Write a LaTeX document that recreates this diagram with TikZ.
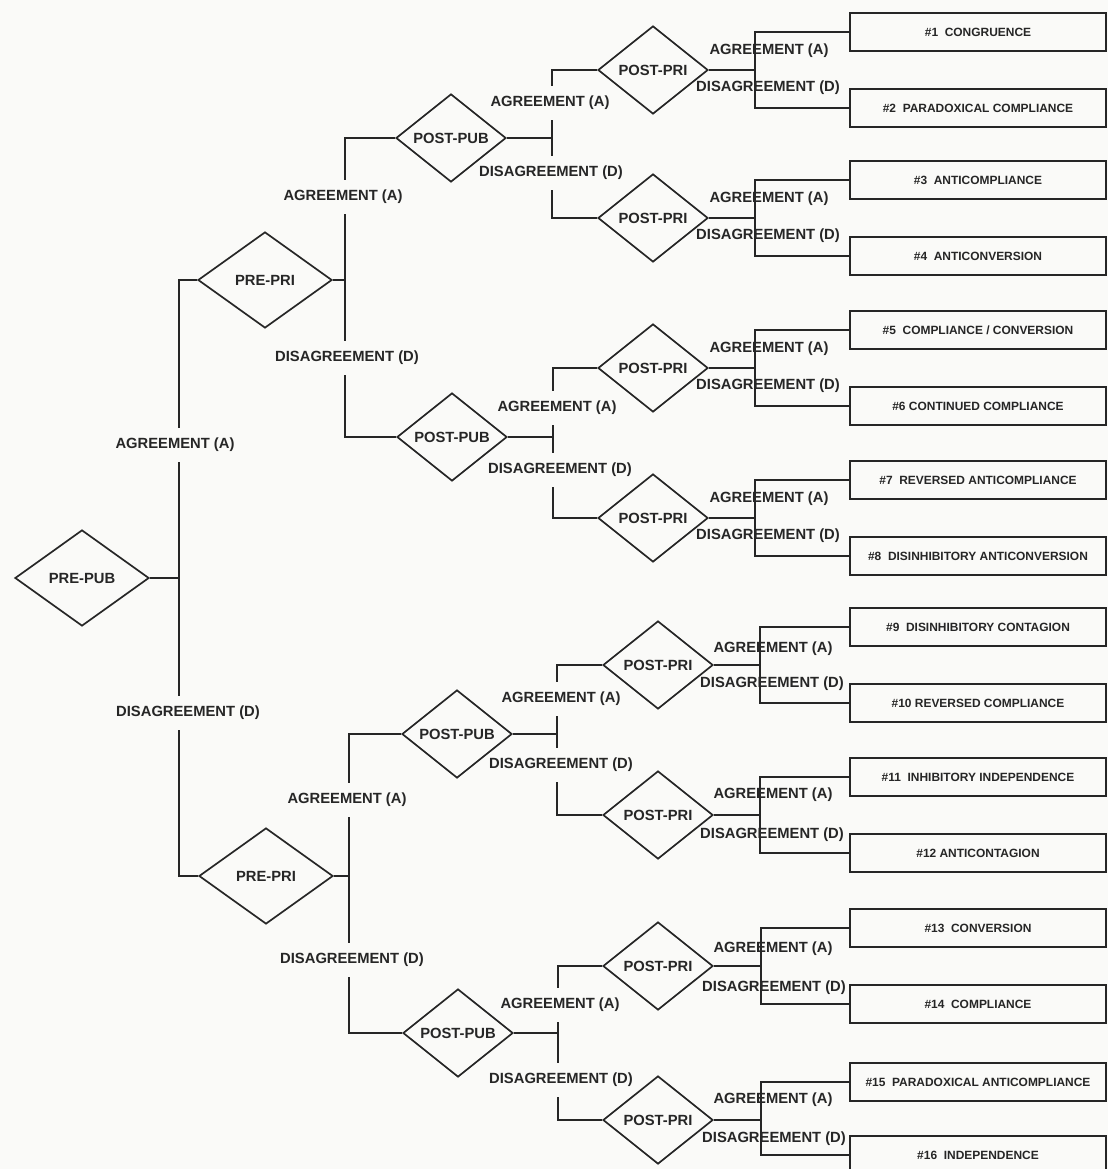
\documentclass[tikz,border=0pt]{standalone}
\usepackage{fontspec}
\setmainfont{Liberation Sans}
\usetikzlibrary{shapes.geometric, backgrounds}
\definecolor{ink}{RGB}{38,38,38}
\definecolor{paper}{RGB}{250,250,248}

\begin{document}
\begin{tikzpicture}[
        x=0.025cm, y=-0.025cm,
        decision/.style={diamond, draw=ink, line width=1.2pt, inner sep=0pt, aspect=1.25, text=ink, font=\fontsize{10.5}{13}\selectfont\bfseries},
        predec/.style={decision, minimum width=3.35cm, minimum height=2.4cm},
        postdec/.style={decision, minimum width=2.75cm, minimum height=2.2cm},
        outcome/.style={rectangle, draw=ink, line width=1.2pt, minimum width=6.4cm, minimum height=0.95cm, inner sep=1pt, text=ink, font=\fontsize{8.5}{11}\selectfont\bfseries},
        answer/.style={text=ink, inner sep=1pt, font=\fontsize{10.5}{13}\selectfont\bfseries},
        gapped/.style={answer, fill=paper, inner xsep=2pt, inner ysep=7pt},
        link/.style={draw=ink, line width=1.2pt}
    ]
    \useasboundingbox (0,0) rectangle (1108,1169);

    % answers on the trunks
    \node (agr0) [gapped] at (175,445) {AGREEMENT (A)};
    \node (dis0) [gapped] at (188,713) {DISAGREEMENT (D)};
    \node (agrA) [gapped] at (343,197) {AGREEMENT (A)};
    \node (disA) [gapped] at (347,358) {DISAGREEMENT (D)};
    \node (agrD) [gapped] at (347,800) {AGREEMENT (A)};
    \node (disD) [gapped] at (352,960) {DISAGREEMENT (D)};
    \node (agrAA) [gapped] at (550,103) {AGREEMENT (A)};
    \node (disAA) [gapped] at (551,173) {DISAGREEMENT (D)};
    \node (agrAD) [gapped] at (557,408) {AGREEMENT (A)};
    \node (disAD) [gapped] at (560,470) {DISAGREEMENT (D)};
    \node (agrDA) [gapped] at (561,699) {AGREEMENT (A)};
    \node (disDA) [gapped] at (561,765) {DISAGREEMENT (D)};
    \node (agrDD) [gapped] at (560,1005) {AGREEMENT (A)};
    \node (disDD) [gapped] at (561,1080) {DISAGREEMENT (D)};

    \node (agrAAA) [answer] at (769,51) {AGREEMENT (A)};
    \node (disAAA) [answer] at (768,88) {DISAGREEMENT (D)};
    \node (agrAAD) [answer] at (769,199) {AGREEMENT (A)};
    \node (disAAD) [answer] at (768,236) {DISAGREEMENT (D)};
    \node (agrADA) [answer] at (769,349) {AGREEMENT (A)};
    \node (disADA) [answer] at (768,386) {DISAGREEMENT (D)};
    \node (agrADD) [answer] at (769,499) {AGREEMENT (A)};
    \node (disADD) [answer] at (768,536) {DISAGREEMENT (D)};
    \node (agrDAA) [answer] at (773,649) {AGREEMENT (A)};
    \node (disDAA) [answer] at (772,684) {DISAGREEMENT (D)};
    \node (agrDAD) [answer] at (773,795) {AGREEMENT (A)};
    \node (disDAD) [answer] at (772,835) {DISAGREEMENT (D)};
    \node (agrDDA) [answer] at (773,949) {AGREEMENT (A)};
    \node (disDDA) [answer] at (774,988) {DISAGREEMENT (D)};
    \node (agrDDD) [answer] at (773,1100) {AGREEMENT (A)};
    \node (disDDD) [answer] at (774,1139) {DISAGREEMENT (D)};

    % decisions
    \node (prepub) [predec] at (82,578) {PRE-PUB};
    \node (prepriA) [predec] at (265,280) {PRE-PRI};
    \node (prepriD) [predec] at (266,876) {PRE-PRI};
    \node (pubAA) [postdec] at (451,138) {POST-PUB};
    \node (pubAD) [postdec] at (452,437) {POST-PUB};
    \node (pubDA) [postdec] at (457,734) {POST-PUB};
    \node (pubDD) [postdec] at (458,1033) {POST-PUB};
    \node (priAAA) [postdec] at (653,70) {POST-PRI};
    \node (priAAD) [postdec] at (653,218) {POST-PRI};
    \node (priADA) [postdec] at (653,368) {POST-PRI};
    \node (priADD) [postdec] at (653,518) {POST-PRI};
    \node (priDAA) [postdec] at (658,665) {POST-PRI};
    \node (priDAD) [postdec] at (658,815) {POST-PRI};
    \node (priDDA) [postdec] at (658,966) {POST-PRI};
    \node (priDDD) [postdec] at (658,1120) {POST-PRI};

    % outcomes
    \node (out1) [outcome] at (978,32) {\#1\ \ CONGRUENCE};
    \node (out2) [outcome] at (978,108) {\#2\ \ PARADOXICAL COMPLIANCE};
    \node (out3) [outcome] at (978,180) {\#3\ \ ANTICOMPLIANCE};
    \node (out4) [outcome] at (978,256) {\#4\ \ ANTICONVERSION};
    \node (out5) [outcome] at (978,330) {\#5\ \ COMPLIANCE / CONVERSION};
    \node (out6) [outcome] at (978,406) {\#6 CONTINUED COMPLIANCE};
    \node (out7) [outcome] at (978,480) {\#7\ \ REVERSED ANTICOMPLIANCE};
    \node (out8) [outcome] at (978,556) {\#8\ \ DISINHIBITORY ANTICONVERSION};
    \node (out9) [outcome] at (978,627) {\#9\ \ DISINHIBITORY CONTAGION};
    \node (out10) [outcome] at (978,703) {\#10 REVERSED COMPLIANCE};
    \node (out11) [outcome] at (978,777) {\#11\ \ INHIBITORY INDEPENDENCE};
    \node (out12) [outcome] at (978,853) {\#12 ANTICONTAGION};
    \node (out13) [outcome] at (978,928) {\#13\ \ CONVERSION};
    \node (out14) [outcome] at (978,1004) {\#14\ \ COMPLIANCE};
    \node (out15) [outcome] at (978,1082) {\#15\ \ PARADOXICAL ANTICOMPLIANCE};
    \node (out16) [outcome] at (978,1155) {\#16\ \ INDEPENDENCE};

    % junctions
    \coordinate (j0) at (179,578);
    \coordinate (jA) at (345,280);
    \coordinate (jD) at (349,876);
    \coordinate (jAA) at (552,138);
    \coordinate (jAD) at (553,437);
    \coordinate (jDA) at (557,734);
    \coordinate (jDD) at (558,1033);
    \coordinate (jAAA) at (755,70);
    \coordinate (jAAD) at (755,218);
    \coordinate (jADA) at (755,368);
    \coordinate (jADD) at (755,518);
    \coordinate (jDAA) at (760,665);
    \coordinate (jDAD) at (760,815);
    \coordinate (jDDA) at (761,966);
    \coordinate (jDDD) at (761,1120);

    \begin{scope}[on background layer]
    \fill [paper] (0,0) rectangle (1108,1169);
    \draw [link] (prepub.east) -- (j0);
    \draw [link] (j0) |- (prepriA.west);
    \draw [link] (j0) |- (prepriD.west);

    \draw [link] (prepriA.east) -- (jA);
    \draw [link] (jA) |- (pubAA.west);
    \draw [link] (jA) |- (pubAD.west);
    \draw [link] (prepriD.east) -- (jD);
    \draw [link] (jD) |- (pubDA.west);
    \draw [link] (jD) |- (pubDD.west);

    \draw [link] (pubAA.east) -- (jAA);
    \draw [link] (jAA) |- (priAAA.west);
    \draw [link] (jAA) |- (priAAD.west);
    \draw [link] (pubAD.east) -- (jAD);
    \draw [link] (jAD) |- (priADA.west);
    \draw [link] (jAD) |- (priADD.west);
    \draw [link] (pubDA.east) -- (jDA);
    \draw [link] (jDA) |- (priDAA.west);
    \draw [link] (jDA) |- (priDAD.west);
    \draw [link] (pubDD.east) -- (jDD);
    \draw [link] (jDD) |- (priDDA.west);
    \draw [link] (jDD) |- (priDDD.west);

    \draw [link] (priAAA.east) -- (jAAA);
    \draw [link] (jAAA) |- (out1.west);
    \draw [link] (jAAA) |- (out2.west);
    \draw [link] (priAAD.east) -- (jAAD);
    \draw [link] (jAAD) |- (out3.west);
    \draw [link] (jAAD) |- (out4.west);
    \draw [link] (priADA.east) -- (jADA);
    \draw [link] (jADA) |- (out5.west);
    \draw [link] (jADA) |- (out6.west);
    \draw [link] (priADD.east) -- (jADD);
    \draw [link] (jADD) |- (out7.west);
    \draw [link] (jADD) |- (out8.west);
    \draw [link] (priDAA.east) -- (jDAA);
    \draw [link] (jDAA) |- (out9.west);
    \draw [link] (jDAA) |- (out10.west);
    \draw [link] (priDAD.east) -- (jDAD);
    \draw [link] (jDAD) |- (out11.west);
    \draw [link] (jDAD) |- (out12.west);
    \draw [link] (priDDA.east) -- (jDDA);
    \draw [link] (jDDA) |- (out13.west);
    \draw [link] (jDDA) |- (out14.west);
    \draw [link] (priDDD.east) -- (jDDD);
    \draw [link] (jDDD) |- (out15.west);
    \draw [link] (jDDD) |- (out16.west);
    \end{scope}
\end{tikzpicture}
\end{document}
